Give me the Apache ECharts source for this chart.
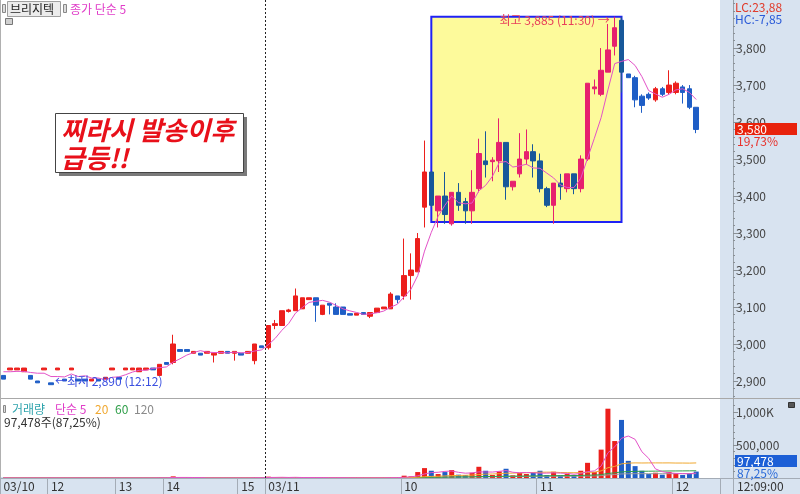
<!DOCTYPE html>
<html><head><meta charset="utf-8">
<script src="https://cdn.jsdelivr.net/npm/echarts@6/dist/echarts.min.js"></script>
<style>html,body{margin:0;padding:0;background:#fff}#c{width:800px;height:494px}</style>
</head><body><div id="c"></div>
<script>
// ---------- data ----------
const opens = [2915,2930,2930,2925,2915,2900,2930,2895,2930,2905,2930,2905,2905,2900,2905,2905,2930,2910,2930,2930,2925,2930,2935,2915,2950,2950,2985,2985,2975,2975,2975,2970,2975,2980,2975,2975,2975,2955,2995,
2990,3050,3050,3088,3090,3095,3120,3125,3080,3110,3100,3100,3082,3078,3085,3075,3085,3095,3095,3130,3130,3185,3195,3370,3465,3360,3400,3325,3410,3385,3360,3420,3495,3493,3495,3545,3425,3460,3500,3520,3495,3420,3375,3435,3420,3460,3420,3500,3690,3675,3735,3805,3875,3730,3720,3670,3675,3660,3690,3680,3680,3695,3690,3640];
const closes = [2905,2935,2935,2935,2905,2895,2935,2890,2935,2900,2935,2900,2900,2905,2900,2910,2935,2905,2935,2935,2935,2935,2930,2945,2945,3000,2980,2980,2980,2970,2980,2975,2980,2975,2980,2970,2980,3000,2990,
3050,3055,3090,3092,3130,3125,3125,3105,3105,3105,3080,3080,3078,3083,3080,3085,3097,3100,3135,3120,3185,3200,3285,3465,3375,3400,3350,3410,3375,3360,3410,3515,3485,3497,3545,3425,3440,3500,3520,3495,3420,3375,3435,3425,3460,3420,3500,3705,3695,3740,3795,3855,3735,3720,3660,3645,3665,3690,3675,3700,3705,3680,3640,3580];
const lows = [2905,2930,2930,2925,2905,2895,2930,2890,2930,2900,2930,2900,2900,2900,2900,2905,2930,2905,2930,2930,2925,2930,2930,2915,2945,2945,2980,2980,2975,2970,2975,2950,2975,2975,2955,2970,2975,2945,2990,
2985,3040,3050,3085,3090,3095,3120,3060,3078,3080,3080,3080,3078,3078,3080,3070,3085,3095,3095,3110,3120,3120,3195,3315,3370,3315,3325,3320,3360,3325,3325,3410,3450,3440,3465,3390,3415,3450,3485,3450,3410,3370,3325,3390,3410,3405,3410,3495,3675,3670,3735,3780,3680,3720,3640,3625,3660,3655,3670,3675,3675,3650,3635,3570];
const highs = [2915,2935,2935,2935,2915,2900,2935,2895,2935,2905,2935,2905,2905,2905,2905,2910,2935,2910,2935,2935,2935,2935,2935,2945,2950,3025,2985,2985,2980,2975,2980,2975,2980,2980,2980,2975,2980,3000,2995,
3050,3065,3090,3095,3150,3125,3125,3125,3105,3110,3110,3100,3082,3083,3085,3085,3097,3100,3140,3130,3285,3245,3300,3550,3465,3400,3465,3410,3435,3395,3470,3555,3575,3505,3610,3545,3440,3570,3580,3540,3515,3425,3435,3460,3460,3460,3510,3705,3715,3800,3865,3885,3885,3730,3725,3675,3680,3695,3695,3740,3710,3700,3700,3640];
const volumes = [3000,1000,1000,2000,3000,2000,1000,4000,1000,2000,1000,2000,1000,1000,2000,3000,1000,2000,1000,2000,3000,1000,2000,8000,3000,25000,4000,2000,2000,2000,1000,3000,2000,1000,3000,2000,1000,15000,3000,
20000,5000,10000,3000,12000,6000,3000,8000,5000,3000,6000,5000,2000,2000,2000,4000,5000,3000,12000,4000,
35000,25000,90000,150000,110000,60000,90000,120000,50000,45000,80000,170000,110000,45000,100000,140000,40000,75000,60000,80000,110000,45000,95000,40000,60000,45000,110000,230000,90000,430000,1050000,560000,880000,260000,180000,110000,60000,80000,50000,90000,70000,45000,70000,97478];
const prevCloses = [2935, 2930, 2935, 2920];          // closes just before the visible window (for MA5)
const slotCount = 106;                                 // category slots incl. empty right margin
const categories = Array.from({length: slotCount}, (_, i) => String(i));
const timeTickIdx = [0, 7, 17, 24, 35, 39, 59, 79, 99];
const timeTickText = ['03/10', '12', '13', '14', '15', '03/11', '10', '11', '12'];
const priceTicks = [2900, 3000, 3100, 3200, 3300, 3400, 3500, 3600, 3700, 3800];
const priceMinor = Array.from({length: 54}, (_, k) => 2860 + k * 20);
const volTicks = [500000, 1000000];
const volMinor = [100000, 200000, 300000, 400000, 600000, 700000, 800000, 900000, 1100000];
const boxRange = [63, 91];           // highlighted box, slot indices
const boxPrices = [3885, 3330];
const dayBreakIdx = 39;
const highPoint = {idx: 90, price: 3885, text: '최고 3,885 (11:30) →'};
const lowPoint = {idx: 7, price: 2890, text: '←최저 2,890 (12:12)'};
const lastPrice = 3580, lastVolume = 97478;

// ---------- styles ----------
const UP = '#ec1f1c', DOWN = '#1f5ec6', BUP = '#e6206e', BDOWN = '#18589a';
const MA_PINK = '#e352c8';
const FONT = '"Noto Sans CJK KR","Liberation Sans",sans-serif';
const PANEL = '#d8e3f0';

function sma(arr, n, seed) {
  const all = (seed || []).concat(arr), off = (seed || []).length;
  return arr.map((_, i) => {
    const end = i + off, start = Math.max(0, end - n + 1);
    let s = 0; for (let k = start; k <= end; k++) s += all[k];
    return +(s / (end - start + 1)).toFixed(2);
  });
}
const ma5 = sma(closes, 5, prevCloses);
const vma5 = sma(volumes, 5), vma20 = sma(volumes, 20), vma60 = sma(volumes, 60), vma120 = sma(volumes, 120);

const inBox = i => i >= boxRange[0] && i <= boxRange[1];
const ohlc = i => [opens[i], closes[i], lows[i], highs[i]];
const outsideData = opens.map((_, i) => inBox(i) ? '-' : ohlc(i));
const insideData = opens.map((_, i) => inBox(i) ? ohlc(i) : '-');

const chart = echarts.init(document.getElementById('c'), null, {renderer: 'canvas', width: 800, height: 494});
const tickFn = (idx) => timeTickIdx.indexOf(idx) >= 0;
const fmtNum = v => String(v).replace(/\B(?=(\d{3})+(?!\d))/g, ',');

chart.setOption({
  animation: false,
  backgroundColor: PANEL,
  grid: [
    {left: 0, top: 0, width: 720, height: 398, show: true, backgroundColor: '#fff', borderWidth: 0},
    {left: 0, top: 399, width: 720, height: 79, show: true, backgroundColor: '#fff', borderWidth: 0}
  ],
  xAxis: [
    {type: 'category', gridIndex: 0, data: categories, boundaryGap: true, axisLine: {show: false}, axisTick: {show: false}, axisLabel: {show: false}},
    {type: 'category', gridIndex: 1, data: categories, boundaryGap: true, z: 20,
      axisLine: {show: false},
      axisTick: {show: true, interval: tickFn, length: 16, lineStyle: {color: '#a4acb6'}},
      axisLabel: {show: true, interval: tickFn, align: 'left', margin: 2, color: '#333', fontSize: 12, fontFamily: FONT,
        formatter: (v, idx) => { const k = timeTickIdx.indexOf(idx); return k >= 0 ? timeTickText[k] : ''; }}}
  ],
  yAxis: [
    {type: 'value', gridIndex: 0, position: 'right', offset: 13, min: 2854, max: 3930, splitLine: {show: false},
      axisLine: {show: true, lineStyle: {color: '#98a0a8'}},
      axisTick: {show: true, customValues: priceTicks, length: 5, lineStyle: {color: '#8a9096'}},
      axisLabel: {show: true, customValues: priceTicks, formatter: v => fmtNum(v), color: '#444', fontSize: 12, fontFamily: FONT, margin: 3}},
    {type: 'value', gridIndex: 0, position: 'right', offset: 13, min: 2854, max: 3930, splitLine: {show: false},
      axisLine: {show: false}, axisLabel: {show: false},
      axisTick: {show: true, customValues: priceMinor, length: 2, lineStyle: {color: '#8a9096'}}},
    {type: 'value', gridIndex: 1, position: 'right', offset: 13, min: 0, max: 1197000, splitLine: {show: false},
      axisLine: {show: true, lineStyle: {color: '#98a0a8'}},
      axisTick: {show: true, customValues: volTicks, length: 5, lineStyle: {color: '#8a9096'}},
      axisLabel: {show: true, customValues: volTicks, formatter: v => v >= 1000000 ? '1,000K' : fmtNum(v), color: '#444', fontSize: 12, fontFamily: FONT, margin: 3}},
    {type: 'value', gridIndex: 1, position: 'right', offset: 13, min: 0, max: 1197000, splitLine: {show: false},
      axisLine: {show: false}, axisLabel: {show: false},
      axisTick: {show: true, customValues: volMinor, length: 2, lineStyle: {color: '#8a9096'}}}
  ],
  series: [
    {type: 'candlestick', xAxisIndex: 0, yAxisIndex: 0, data: outsideData, barWidth: 5, z: 2,
      itemStyle: {color: UP, color0: DOWN, borderColor: UP, borderColor0: DOWN, borderWidth: 1},
      markArea: {silent: true, z: 1,
        itemStyle: {color: '#fdfa9b', borderColor: '#1f22f5', borderWidth: 2},
        data: [[{xAxis: boxRange[0], yAxis: boxPrices[0]}, {xAxis: boxRange[1], yAxis: boxPrices[1]}]]}},
    {type: 'candlestick', xAxisIndex: 0, yAxisIndex: 0, data: insideData, barWidth: 5, z: 2,
      itemStyle: {color: BUP, color0: BDOWN, borderColor: BUP, borderColor0: BDOWN, borderWidth: 1}},
    {type: 'line', xAxisIndex: 0, yAxisIndex: 0, data: ma5, showSymbol: false, z: 3, lineStyle: {color: MA_PINK, width: 1}},
    {type: 'bar', xAxisIndex: 1, yAxisIndex: 2, data: volumes, barWidth: 5,
      itemStyle: {color: p => closes[p.dataIndex] >= opens[p.dataIndex] ? UP : DOWN}},
    {type: 'line', xAxisIndex: 1, yAxisIndex: 2, data: vma120, showSymbol: false, lineStyle: {color: '#9a9a9a', width: 1}},
    {type: 'line', xAxisIndex: 1, yAxisIndex: 2, data: vma60, showSymbol: false, lineStyle: {color: '#2e9e48', width: 1}},
    {type: 'line', xAxisIndex: 1, yAxisIndex: 2, data: vma20, showSymbol: false, lineStyle: {color: '#f0a830', width: 1}},
    {type: 'line', xAxisIndex: 1, yAxisIndex: 2, data: vma5, showSymbol: false, lineStyle: {color: MA_PINK, width: 1}}
  ]
});

const px = (i, p) => chart.convertToPixel({xAxisIndex: 0, yAxisIndex: 0}, [i, p]);
const dayX = (px(dayBreakIdx - 1, 3000)[0] + px(dayBreakIdx, 3000)[0]) / 2;
const hp = px(highPoint.idx, highPoint.price);
const lp = px(lowPoint.idx, lowPoint.price);
const lastY = px(0, lastPrice)[1];
const txt = (text, x, y, fill, extra) => Object.assign({type: 'text', z: 50, style: Object.assign({text, x, y, fill, font: '12px ' + FONT, verticalAlign: 'middle'}, extra || {})});

chart.setOption({graphic: [
  // frame lines
  {type: 'rect', z: 5, shape: {x: 0, y: 478, width: 800, height: 16}, style: {fill: PANEL}},
  {type: 'line', z: 6, shape: {x1: 0, y1: 478.5, x2: 800, y2: 478.5}, style: {stroke: '#a4acb6', lineWidth: 1}},
  {type: 'line', z: 6, shape: {x1: 0, y1: 398.5, x2: 800, y2: 398.5}, style: {stroke: '#a8a8a8', lineWidth: 1}},
  {type: 'line', z: 6, shape: {x1: 0.5, y1: 0, x2: 0.5, y2: 478}, style: {stroke: '#b0b0b0', lineWidth: 1}},
  {type: 'line', z: 6, shape: {x1: 733.5, y1: 478, x2: 733.5, y2: 494}, style: {stroke: '#a4acb6', lineWidth: 1}},
  // day break
  {type: 'line', z: 25, shape: {x1: Math.round(dayX) + 0.5, y1: 0, x2: Math.round(dayX) + 0.5, y2: 478}, style: {stroke: '#222', lineWidth: 1, lineDash: [2, 2]}},
  // header
  {type: 'rect', z: 40, shape: {x: 2.5, y: 4.5, width: 3, height: 8}, style: {fill: '#ddd', stroke: '#888'}},
  {type: 'rect', z: 40, shape: {x: 7.5, y: 1.5, width: 53, height: 15}, style: {fill: '#ececec', stroke: '#a0a0a0'}},
  txt('브리지텍', 10, 9.5, '#222'),
  {type: 'rect', z: 40, shape: {x: 63.5, y: 4.5, width: 3, height: 8}, style: {fill: '#ddd', stroke: '#888'}},
  txt('종가 단순 5', 70, 9.5, '#e03cc8'),
  {type: 'rect', z: 40, shape: {x: 5.5, y: 18.5, width: 7, height: 6}, style: {fill: '#d0d0d0', stroke: '#777'}},
  // volume legend
  {type: 'rect', z: 40, shape: {x: 3.5, y: 405.5, width: 2, height: 7}, style: {fill: '#ddd', stroke: '#888'}},
  txt('거래량', 12, 409, '#2fa4ad'),
  txt('단순 5', 55, 409, '#e03cc8'),
  txt('20', 95, 409, '#f0a830'),
  txt('60', 115, 409, '#2e9e48'),
  txt('120', 134, 409, '#8a8a8a'),
  txt('97,478주(87,25%)', 4, 422, '#333'),
  // callout
  {type: 'rect', z: 40, shape: {x: 59, y: 117, width: 188, height: 59}, style: {fill: '#7a7a7a'}},
  {type: 'rect', z: 41, shape: {x: 55.5, y: 113.5, width: 188, height: 59}, style: {fill: '#fff', stroke: '#444', lineWidth: 1}},
  txt('찌라시 발송이후', 61, 130, '#e8101a', {font: 'italic bold 26px ' + FONT}),
  txt('급등!!', 61, 158, '#e8101a', {font: 'italic bold 26px ' + FONT}),
  // high / low annotations
  txt(highPoint.text, hp[0] - 5, hp[1] + 4, '#e8405a', {align: 'right', font: '12px ' + FONT}),
  txt(lowPoint.text, lp[0] + 4, lp[1] - 3, '#3a4fe0', {font: '12px ' + FONT}),
  // right panel labels
  txt('LC:23,88', 735, 7.5, '#e03a2a'),
  txt('HC:-7,85', 735, 19.5, '#2a5ad8'),
  {type: 'rect', z: 45, shape: {x: 735, y: Math.round(lastY) - 6, width: 62, height: 12}, style: {fill: '#e8220c'}},
  txt(fmtNum(lastPrice), 737, Math.round(lastY), '#fff', {font: '12px ' + FONT}),
  txt('19,73%', 737, Math.round(lastY) + 12, '#e8302a'),
  {type: 'rect', z: 45, shape: {x: 735, y: 455, width: 62, height: 12}, style: {fill: '#1c5fd6'}},
  txt(fmtNum(lastVolume), 737, 461, '#fff'),
  txt('87,25%', 737, 473, '#2a6ad8'),
  {type: 'rect', z: 40, shape: {x: 788.5, y: 402.5, width: 6, height: 5}, style: {fill: '#555', stroke: '#333'}},
  txt('12:09:00', 737, 486, '#333')
]});
</script></body></html>
